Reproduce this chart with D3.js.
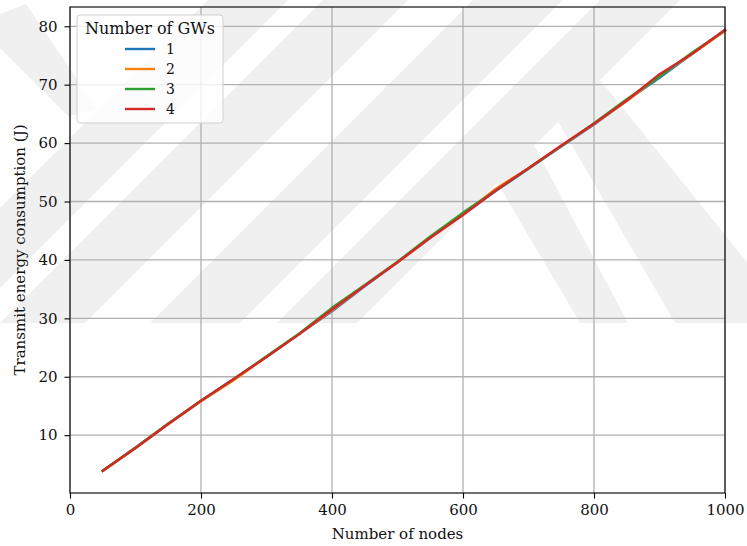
<!DOCTYPE html>
<meta charset="utf-8">
<body style="margin:0;background:#fff">
<script src="https://d3js.org/d3.v7.min.js"></script>
<script>

// data
var nodes = [50,100,150,200,250,300,350,400,450,500,550,600,650,700,750,800,850,900,950,1000];
var gw1 = [3.9,7.8,11.9,15.9,19.6,23.4,27.3,31.2,35.5,39.6,43.8,47.8,51.8,55.6,59.4,63.2,67.3,71.2,75.3,79.3];
var gw2 = [3.9,7.8,11.9,15.8,19.4,23.4,27.3,31.4,35.6,39.6,43.8,47.8,52.2,55.7,59.5,63.3,67.2,71.5,75.3,79.2];
var gw3 = [3.9,7.9,12.0,15.9,19.6,23.5,27.4,31.8,35.7,39.7,44.0,48.1,51.9,55.7,59.5,63.4,67.5,71.4,75.5,79.3];
var gw4 = [3.9,7.8,11.9,15.9,19.6,23.4,27.3,31.5,35.6,39.6,43.8,47.7,51.9,55.7,59.6,63.3,67.3,71.8,75.3,79.4];
var seriesNames = ['1','2','3','4'];
var colors = ['#1f77b4','#ff7f0e','#2ca02c','#d62728'];
var xTicks = [0,200,400,600,800,1000];
var yTicks = [10,20,30,40,50,60,70,80];

var W = 747, H = 546;
var m = {l: 70, r: 22, t: 7, b: 53};
var font = 'DejaVu Serif, serif';

var svg = d3.select('body').append('svg')
  .attr('width', W).attr('height', H);

// faint watermark behind the chart
var wm = svg.append('g').attr('fill', '#f0f0f0');
[[-115, 80], [0, 85], [150, 90], [277, 80]].forEach(b => {
  var x0 = b[0], w = b[1];
  wm.append('path')
    .attr('d', `M${x0},323 L${x0+w},323 L${x0+w+323},0 L${x0+323},0 Z`);
});
wm.append('path').attr('d', 'M478,150 L525,128 L628,323 L580,323 Z');
wm.append('path').attr('d', 'M548,104 L600,80 L747,262 L747,323 L675,323 Z');
wm.append('path').attr('d', 'M0,14 L26,4 L98,110 L68,116 L0,48 Z');

var x = d3.scaleLinear().domain([0, 1000]).range([m.l, W - m.r]);
var y = d3.scaleLinear().domain([0.1, 83.3]).range([H - m.b, m.t]);

var g = svg.append('g');

// grid
g.append('g').selectAll('line').data(xTicks).enter().append('line')
  .attr('x1', d => x(d)).attr('x2', d => x(d))
  .attr('y1', m.t).attr('y2', H - m.b)
  .attr('stroke', '#b0b0b0').attr('stroke-width', 1.3);
g.append('g').selectAll('line').data(yTicks).enter().append('line')
  .attr('y1', d => y(d)).attr('y2', d => y(d))
  .attr('x1', m.l).attr('x2', W - m.r)
  .attr('stroke', '#b0b0b0').attr('stroke-width', 1.3);

// lines
var all = [gw1, gw2, gw3, gw4];
var line = d3.line().x((d, i) => x(nodes[i])).y(d => y(d));
all.forEach((s, k) => {
  g.append('path')
    .attr('d', line(s))
    .attr('fill', 'none')
    .attr('stroke', colors[k])
    .attr('stroke-width', 2.4)
    .attr('stroke-linejoin', 'round')
    .attr('stroke-linecap', 'square');
});

// axes
var xa = g.append('g').attr('transform', `translate(0,${H - m.b})`)
  .call(d3.axisBottom(x).tickValues(xTicks).tickSize(5.5).tickPadding(6).tickFormat(d3.format('d')));
var ya = g.append('g').attr('transform', `translate(${m.l},0)`)
  .call(d3.axisLeft(y).tickValues(yTicks).tickSize(5.5).tickPadding(7));
[xa, ya].forEach(a => {
  a.select('.domain').remove();
  a.selectAll('line').attr('stroke', '#000').attr('stroke-width', 1.1);
  a.selectAll('text').attr('font-family', font).attr('font-size', 15).attr('fill', '#111');
});

// frame
g.append('rect')
  .attr('x', m.l).attr('y', m.t)
  .attr('width', W - m.l - m.r).attr('height', H - m.t - m.b)
  .attr('fill', 'none').attr('stroke', '#111').attr('stroke-width', 1.2);

// labels
svg.append('text')
  .attr('x', (m.l + W - m.r) / 2).attr('y', 539)
  .attr('text-anchor', 'middle')
  .attr('font-family', font).attr('font-size', 15).attr('fill', '#111')
  .text('Number of nodes');
svg.append('text')
  .attr('transform', `translate(25,${(m.t + H - m.b) / 2}) rotate(-90)`)
  .attr('text-anchor', 'middle')
  .attr('font-family', font).attr('font-size', 15).attr('fill', '#111')
  .text('Transmit energy consumption (J)');

// legend
var lg = svg.append('g').attr('transform', 'translate(77,15)');
lg.append('rect')
  .attr('width', 146).attr('height', 108).attr('rx', 3)
  .attr('fill', 'white').attr('fill-opacity', 0.8)
  .attr('stroke', '#d0d0d0').attr('stroke-width', 1);
lg.append('text')
  .attr('x', 73).attr('y', 19)
  .attr('text-anchor', 'middle')
  .attr('font-family', font).attr('font-size', 16).attr('fill', '#111')
  .text('Number of GWs');
seriesNames.forEach((n, i) => {
  var yy = 34 + i * 20;
  lg.append('line')
    .attr('x1', 48).attr('x2', 78).attr('y1', yy).attr('y2', yy)
    .attr('stroke', colors[i]).attr('stroke-width', 2.4);
  lg.append('text')
    .attr('x', 89).attr('y', yy + 5)
    .attr('font-family', font).attr('font-size', 14).attr('fill', '#111')
    .text(n);
});
</script>
</body>
</html>
